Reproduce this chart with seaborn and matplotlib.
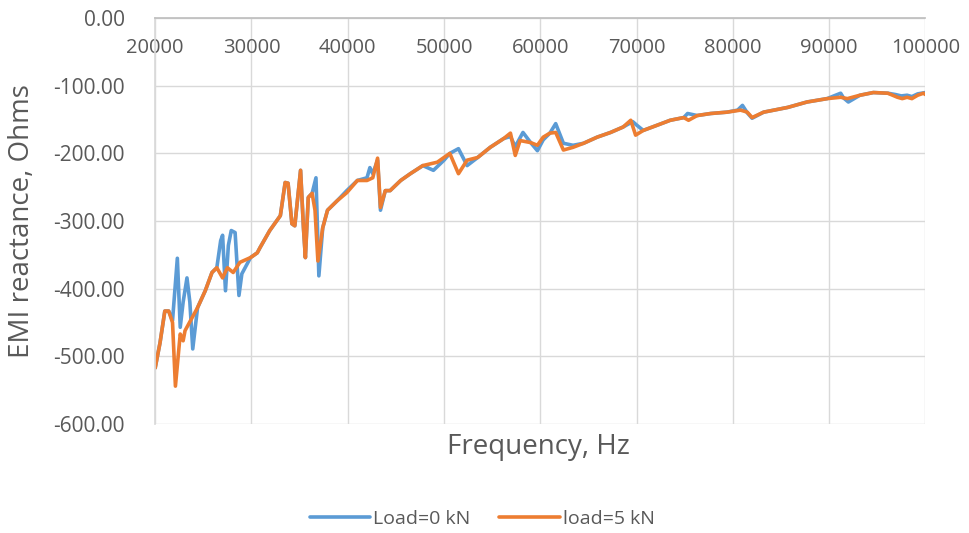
import matplotlib
matplotlib.use("Agg")
import matplotlib.pyplot as plt
import pandas as pd
import seaborn as sns

# Load = 5 kN sweep (frequency in Hz, reactance in Ohms)
freq_5kn = [20000, 20500, 21000, 21400, 21800, 22100, 22600, 22900, 23100, 24400,
            25200, 25900, 26400, 27000, 27500, 28100, 28800, 29900, 30600, 30900,
            31900, 33000, 33500, 33800, 34200, 34500, 35100, 35400, 35600, 35900,
            36300, 36600, 36900, 37400, 37900, 38900, 39900, 41000, 42000, 42600,
            43100, 43400, 43900, 44400, 45500, 46500, 47800, 49300, 50600, 51500,
            52400, 53500, 54800, 56200, 56900, 57400, 57900, 59000, 59700, 60300,
            61000, 61600, 62400, 63400, 64500, 65900, 67300, 68600, 69400, 69900,
            70700, 72200, 73500, 74900, 75400, 76300, 77700, 79400, 80800, 81500,
            82000, 83200, 85700, 87700, 89800, 91200, 91900, 93200, 94600, 96100,
            97100, 97600, 98100, 98600, 99200, 99800, 100000]
react_5kn = [-517, -480, -433, -433, -450, -544, -467, -477, -462, -428,
             -403, -376, -369, -384, -369, -376, -361, -354, -347, -339,
             -314, -292, -243, -244, -304, -307, -225, -310, -354, -265,
             -259, -284, -359, -310, -284, -270, -258, -240, -240, -236,
             -207, -280, -255, -255, -240, -230, -218, -213, -200, -230,
             -210, -206, -191, -178, -170, -203, -181, -184, -188, -176,
             -170, -169, -195, -191, -185, -176, -169, -161, -151, -173,
             -166, -158, -151, -147, -151, -144, -141, -139, -136, -139,
             -147, -139, -132, -124, -119, -117, -119, -114, -110, -111,
             -117, -119, -117, -119, -114, -111, -113]

# Load = 0 kN sweep
freq_0kn = [20000, 20500, 21000, 21400, 21800, 22300, 22600, 22900, 23300, 23600,
            23900, 24400, 25200, 25900, 26400, 26800, 27000, 27300, 27600, 27900,
            28300, 28700, 29000, 29900, 30600, 30900, 31900, 33000, 33500, 33800,
            34200, 34500, 35100, 35400, 35600, 35900, 36300, 36700, 37000, 37400,
            37900, 38900, 39900, 41000, 42000, 42300, 42600, 43100, 43400, 43900,
            44400, 45500, 46500, 47800, 48900, 50000, 50600, 51500, 52400, 53500,
            54800, 56200, 56900, 57400, 58200, 59000, 59700, 60300, 61000, 61600,
            62400, 63400, 64500, 65900, 67300, 68600, 69600, 70000, 70700, 72200,
            73500, 74900, 75300, 76300, 77700, 79400, 80500, 81000, 81500, 82000,
            83200, 85700, 87700, 89800, 91200, 91500, 92000, 93200, 94600, 96100,
            96900, 97500, 98100, 98600, 99200, 100000]
react_0kn = [-517, -480, -433, -433, -447, -355, -457, -420, -384, -420,
             -489, -428, -403, -376, -369, -329, -321, -403, -336, -314,
             -317, -410, -378, -354, -347, -339, -314, -292, -243, -244,
             -304, -307, -225, -310, -354, -265, -259, -236, -381, -310,
             -284, -270, -255, -240, -236, -221, -230, -210, -284, -255,
             -255, -240, -230, -218, -225, -210, -200, -193, -218, -206,
             -191, -178, -175, -190, -169, -184, -196, -180, -170, -156,
             -185, -188, -185, -176, -169, -161, -153, -158, -166, -158,
             -151, -147, -141, -144, -141, -139, -136, -129, -140, -148,
             -139, -132, -124, -119, -111, -118, -124, -114, -110, -111,
             -113, -115, -114, -116, -112, -110]

series_names = ["Load=0 kN", "load=5 kN"]
series_colors = ["#5B9BD5", "#ED7D31"]

x_ticks = [20000, 30000, 40000, 50000, 60000, 70000, 80000, 90000, 100000]
y_ticks = [0, -100, -200, -300, -400, -500, -600]

df = pd.concat([
    pd.DataFrame({"Frequency": freq_0kn, "Reactance": react_0kn, "Series": series_names[0]}),
    pd.DataFrame({"Frequency": freq_5kn, "Reactance": react_5kn, "Series": series_names[1]}),
], ignore_index=True)

sns.set_theme(style="white")
plt.rcParams["font.family"] = ["Open Sans", "DejaVu Sans"]

text_grey = "#595959"
grid_grey = "#D9D9D9"

fig = plt.figure(figsize=(9.7, 5.33), dpi=100)
ax = fig.add_axes([0.160, 0.2045, 0.794, 0.7615])

sns.lineplot(data=df, x="Frequency", y="Reactance", hue="Series",
             palette=dict(zip(series_names, series_colors)),
             estimator=None, sort=True, linewidth=2.6, ax=ax, legend=False)

ax.set_xlim(20000, 100000)
ax.set_ylim(-600, 0)
ax.set_xticks(x_ticks)
ax.set_yticks(y_ticks)
ax.set_xticklabels([str(v) for v in x_ticks])
ax.set_yticklabels([f"{v:.2f}" for v in y_ticks])

ax.grid(True, color=grid_grey, linewidth=1.0)
ax.set_axisbelow(True)

# x axis crosses at y = 0, so its labels sit just under the top edge
ax.spines["bottom"].set_position(("data", 0))
ax.spines["bottom"].set_color("#BFBFBF")
ax.spines["left"].set_color(grid_grey)
ax.spines["top"].set_visible(False)
ax.spines["right"].set_visible(False)

ax.tick_params(axis="x", length=0, pad=14, labelsize=14.5, labelcolor=text_grey)
ax.tick_params(axis="y", length=0, pad=22, labelsize=15, labelcolor=text_grey)

ax.set_xlabel("")
ax.set_ylabel("")
fig.text(0.023, 0.585, "EMI reactance, Ohms", ha="center", va="center",
         rotation=90, fontsize=20, color=text_grey)
fig.text(0.555, 0.161, "Frequency, Hz", ha="center", va="center",
         fontsize=20, color=text_grey)

handles = [plt.Line2D([], [], color=c, linewidth=2.6) for c in series_colors]
fig.legend(handles, series_names, loc="center", bbox_to_anchor=(0.497, 0.026),
           ncol=2, frameon=False, fontsize=14, labelcolor=text_grey,
           handlelength=3.1, handletextpad=0.15, columnspacing=1.5)

fig.savefig("out.png", dpi=100, facecolor="white")
